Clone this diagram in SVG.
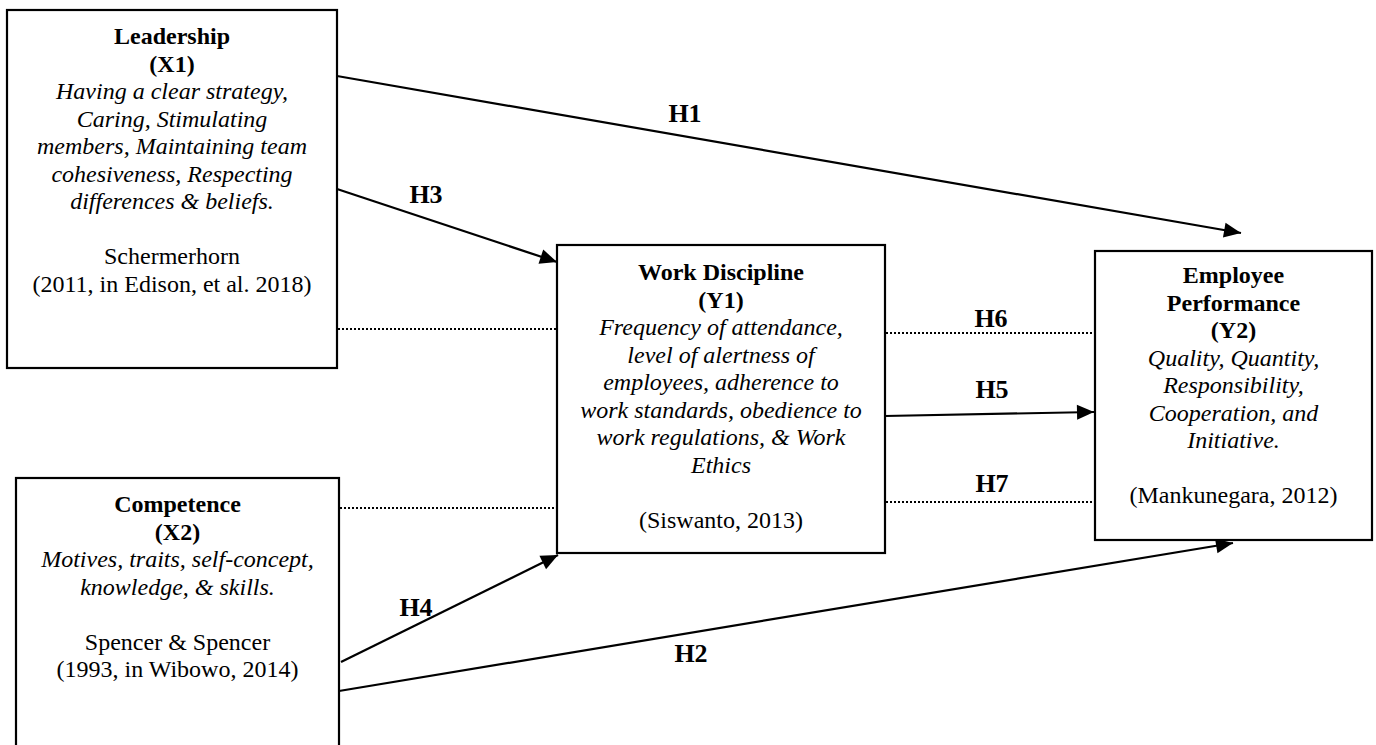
<svg xmlns="http://www.w3.org/2000/svg" width="1376" height="745" viewBox="0 0 1376 745">
<style>
text{font-family:"Liberation Serif","Times New Roman",serif;font-size:24px;fill:#000;text-anchor:middle}
.b{font-weight:bold}
.i{font-style:italic}
.h{font-weight:bold;font-size:26px}
.box{fill:#fff;stroke:#000;stroke-width:2.2}
.ln{stroke:#000;stroke-width:2.2;fill:none}
.dot{stroke:#000;stroke-width:2;stroke-dasharray:2 2;fill:none}
</style>
<defs>
<marker id="arr" markerUnits="userSpaceOnUse" markerWidth="20" markerHeight="18" refX="17" refY="7.5" orient="auto" overflow="visible">
<path d="M0,0 L17,7.5 L0,15 z" fill="#000"/>
</marker>
</defs>
<rect width="1376" height="745" fill="#fff"/>
<g id="connectors">
<line class="ln" x1="337" y1="76" x2="1241" y2="233" marker-end="url(#arr)"/>
<line class="ln" x1="337" y1="189" x2="557" y2="262" marker-end="url(#arr)"/>
<line class="ln" x1="341" y1="662" x2="558" y2="555" marker-end="url(#arr)"/>
<line class="ln" x1="339" y1="691" x2="1233" y2="543" marker-end="url(#arr)"/>
<line class="ln" x1="885" y1="416" x2="1094" y2="412" marker-end="url(#arr)"/>
<line class="dot" x1="338" y1="329" x2="557" y2="329"/>
<line class="dot" x1="340" y1="508" x2="557" y2="508"/>
<line class="dot" x1="886" y1="333" x2="1095" y2="333"/>
<line class="dot" x1="886" y1="502" x2="1095" y2="502"/>
<text class="h" x="685" y="122">H1</text>
<text class="h" x="426" y="203">H3</text>
<text class="h" x="991" y="327">H6</text>
<text class="h" x="992" y="398">H5</text>
<text class="h" x="992" y="492">H7</text>
<text class="h" x="416" y="616">H4</text>
<text class="h" x="691" y="662">H2</text>
</g>
<g id="leadership">
<rect class="box" x="7" y="10" width="330" height="358"/>
<text class="b" x="172" y="44">Leadership</text>
<text class="b" x="172" y="71.5">(X1)</text>
<text class="i" x="172" y="99">Having a clear strategy,</text>
<text class="i" x="172" y="126.5">Caring, Stimulating</text>
<text class="i" x="172" y="154">members, Maintaining team</text>
<text class="i" x="172" y="181.5">cohesiveness, Respecting</text>
<text class="i" x="172" y="209">differences &amp; beliefs.</text>
<text x="172" y="264">Schermerhorn</text>
<text x="172" y="291.5">(2011, in Edison, et al. 2018)</text>
</g>
<g id="competence">
<rect class="box" x="16" y="478" width="323" height="290"/>
<text class="b" x="177.5" y="512">Competence</text>
<text class="b" x="177.5" y="539.5">(X2)</text>
<text class="i" x="177.5" y="567">Motives, traits, self-concept,</text>
<text class="i" x="177.5" y="594.5">knowledge, &amp; skills.</text>
<text x="177.5" y="649.5">Spencer &amp; Spencer</text>
<text x="177.5" y="677">(1993, in Wibowo, 2014)</text>
</g>
<g id="work-discipline">
<rect class="box" x="557" y="245" width="328" height="308"/>
<text class="b" x="721" y="280">Work Discipline</text>
<text class="b" x="721" y="307.5">(Y1)</text>
<text class="i" x="721" y="335">Frequency of attendance,</text>
<text class="i" x="721" y="362.5">level of alertness of</text>
<text class="i" x="721" y="390">employees, adherence to</text>
<text class="i" x="721" y="417.5">work standards, obedience to</text>
<text class="i" x="721" y="445">work regulations, &amp; Work</text>
<text class="i" x="721" y="472.5">Ethics</text>
<text x="721" y="527.5">(Siswanto, 2013)</text>
</g>
<g id="employee-performance">
<rect class="box" x="1095" y="251" width="277" height="289"/>
<text class="b" x="1233.5" y="283">Employee</text>
<text class="b" x="1233.5" y="310.5">Performance</text>
<text class="b" x="1233.5" y="338">(Y2)</text>
<text class="i" x="1233.5" y="365.5">Quality, Quantity,</text>
<text class="i" x="1233.5" y="393">Responsibility,</text>
<text class="i" x="1233.5" y="420.5">Cooperation, and</text>
<text class="i" x="1233.5" y="448">Initiative.</text>
<text x="1233.5" y="503">(Mankunegara, 2012)</text>
</g>
</svg>
